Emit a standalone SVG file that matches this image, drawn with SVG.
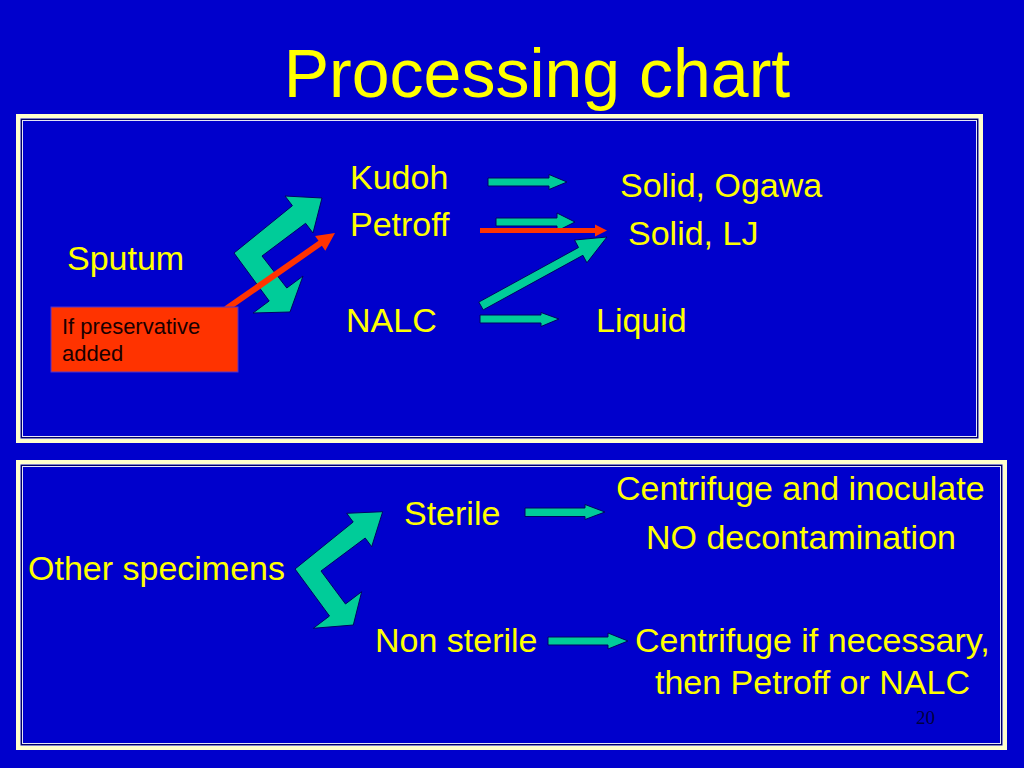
<svg xmlns="http://www.w3.org/2000/svg" width="1024" height="768" viewBox="0 0 1024 768">
<style>
.t{font-family:"Liberation Sans",Arial,sans-serif;font-size:34px;fill:#FFFF00}
.title{font-family:"Liberation Sans",Arial,sans-serif;font-size:68px;fill:#FFFF00}
.g{fill:#00CC99;stroke:#000066;stroke-width:1;stroke-linejoin:miter}
.r{fill:#FF3300;stroke:none}
.fy{fill:none;stroke:#FFFFCC;stroke-width:4.5}
.fd{fill:none;stroke:#000066;stroke-width:1}
.fl{fill:none;stroke:#E6E6F5;stroke-width:1}
.note{font-family:"Liberation Sans",Arial,sans-serif;font-size:22px;fill:#1A0000}
</style>
<rect x="0" y="0" width="1024" height="768" fill="#0000CC"/>
<g id="title"><text class="title" x="537" y="97" text-anchor="middle">Processing chart</text></g>
<g id="frame-top">
<rect class="fy" x="18.25" y="116.25" width="962.5" height="324.5"/>
<rect class="fd" x="21.5" y="119.5" width="956" height="318"/>
<rect class="fl" x="22.5" y="120.5" width="954" height="316"/>
</g>
<g id="frame-bottom">
<rect class="fy" x="18.25" y="462.25" width="986.5" height="285.5"/>
<rect class="fd" x="21.5" y="465.5" width="980" height="279"/>
<rect class="fl" x="22.5" y="466.5" width="978" height="277"/>
</g>
<g id="connectors">
<polygon class="g" points="234,253 292.4,205.7 285,196 322,198 313,233 305.6,223.3 262,256 286.8,288 303,276 290,312 253,313 269.2,301"/>
<path class="g" d="M488,178 H549 V174.5 L567,182 L549,189.5 V186 H488 Z"/>
<path class="g" d="M496,218 H557 V213 L575,222 L557,231 V226 H496 Z"/>
<polygon class="g" points="478.8,302.1 578.5,247.5 574.5,240 607,237 586.9,262.8 582.9,255.3 483.2,309.9"/>
<path class="g" d="M480,315 H541 V312.5 L559,319 L541,326.5 V323 H480 Z"/>
<path class="r" d="M480,228 H595 V224.5 L607,230.5 L595,236.5 V233 H480 Z"/>
<polygon class="r" points="224.3,306.5 318.5,240.8 315.1,235.9 335,233 325.3,250.7 321.9,245.8 227.7,311.5"/>
<polygon class="g" points="295,569 353.2,522 346.7,513.3 382.7,511.7 371.7,546.7 365.2,538 321,571 345.5,604 361.7,591.7 353.3,625 313.3,628.3 329.5,616"/>
<path class="g" d="M525,508 H585 V504.5 L605,512 L585,519.5 V516.5 H525 Z"/>
<path class="g" d="M548,637 H608 V633 L628,641 L608,649 V645 H548 Z"/>
</g>
<g id="sputum"><text class="t" x="67" y="270">Sputum</text></g>
<g id="note-preservative">
<rect x="51" y="307" width="187" height="65" fill="#FF3300" stroke="#5533CC" stroke-width="1"/>
<text class="note" x="62" y="334">If preservative</text>
<text class="note" x="62" y="361">added</text>
</g>
<g id="kudoh"><text class="t" x="350" y="189">Kudoh</text></g>
<g id="petroff"><text class="t" x="350" y="236">Petroff</text></g>
<g id="nalc"><text class="t" x="346" y="332">NALC</text></g>
<g id="solid-ogawa"><text class="t" x="620" y="197">Solid, Ogawa</text></g>
<g id="solid-lj"><text class="t" x="628" y="245">Solid, LJ</text></g>
<g id="liquid"><text class="t" x="596" y="332">Liquid</text></g>
<g id="other"><text class="t" x="28" y="580">Other specimens</text></g>
<g id="sterile"><text class="t" x="404" y="525">Sterile</text></g>
<g id="nonsterile"><text class="t" x="375" y="652">Non sterile</text></g>
<g id="centrifuge-inoculate">
<text class="t" x="616" y="500">Centrifuge and inoculate</text>
<text class="t" x="646" y="549">NO decontamination</text>
</g>
<g id="centrifuge-necessary">
<text class="t" x="635" y="652">Centrifuge if necessary,</text>
<text class="t" x="655" y="694">then Petroff or NALC</text>
</g>
<g id="page"><text x="916" y="724" font-family="'Liberation Serif','Times New Roman',serif" font-size="19" fill="#000040">20</text></g>
</svg>
